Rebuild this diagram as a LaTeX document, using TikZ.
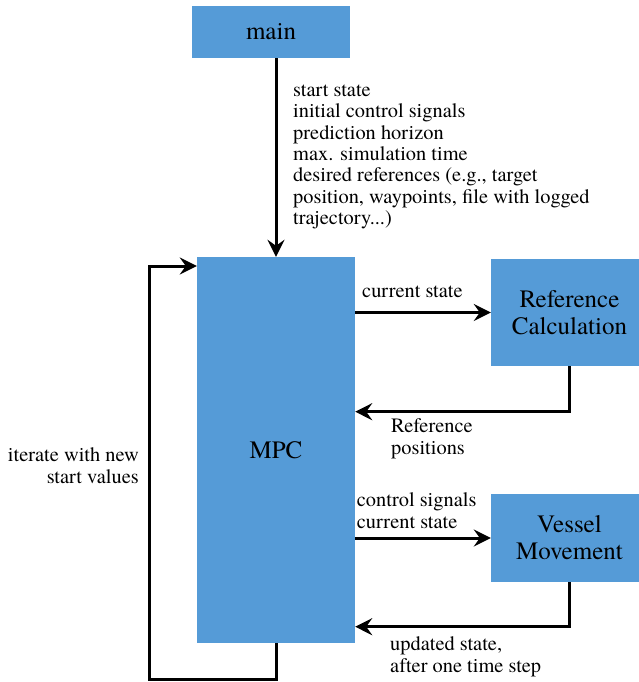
\documentclass[tikz,border=0pt]{standalone}
\usepackage{fontspec}
\setmainfont{texgyretermes-regular.otf}
\usetikzlibrary{positioning, calc, arrows.meta}
\definecolor{boxblue}{RGB}{85,155,215}

\begin{document}
\begin{tikzpicture}[x=1pt, y=-1pt,
    block/.style={fill=boxblue, inner sep=0pt, align=center, font=\fontsize{25}{27}\selectfont},
    wire/.style={line width=3pt},
    flow/.style={wire, -{Stealth[length=17pt, width=17pt, inset=6pt]}},
    lbl/.style={inner sep=0pt, font=\fontsize{20.4}{21.4}\selectfont}]
    \useasboundingbox (0,0) rectangle (639,682);

    % blocks
    \node[block, minimum width=158pt, minimum height=52pt]  (main)   at (271,32)    {main};
    \node[block, minimum width=158pt, minimum height=386pt] (MPC)    at (276,450)   {MPC};
    \node[block, minimum width=157pt, minimum height=107pt] (ref)    at (569.5,312.5) {Reference\\Calculation};
    \node[block, minimum width=157pt, minimum height=88pt]  (vessel) at (569.5,538) {Vessel\\Movement};

    % main -> MPC, with the start parameters
    \draw[flow] (MPC.north |- main.south) -- (MPC.north);
    \node[lbl, anchor=north west, align=left] (params) at (293,84.3)
        {start state\\initial control signals\\prediction horizon\\max. simulation time\\
         desired references (e.g., target\\position, waypoints, file with logged\\trajectory...)};

    % MPC <-> reference calculation
    \draw[flow] (MPC.east |- ref.west) -- (ref.west);
    \node[lbl, anchor=base west] (cur) at (362,297) {current state};
    \coordinate (refturn) at ($(ref.south)+(0,45.5)$);
    \draw[flow] (ref.south) |- (MPC.east |- refturn);
    \node[lbl, anchor=north west, align=left] (refpos) at (391,418.7) {Reference\\positions};

    % MPC <-> vessel movement
    \draw[flow] (MPC.east |- vessel.west) -- (vessel.west);
    \node[lbl, anchor=north west, align=left] (ctrl) at (356.7,492.8) {control signals\\current state};
    \coordinate (vesturn) at ($(vessel.south)+(0,44.5)$);
    \draw[flow] (vessel.south) |- (MPC.east |- vesturn);
    \node[lbl, anchor=north west, align=left] (upd) at (390,636.8) {updated state,\\after one time step};

    % loop back to MPC
    \coordinate (loopbot) at (149,679);
    \coordinate (looptop) at (149,266);
    \draw[flow] (MPC.south) |- (loopbot) -- (looptop) -- (MPC.west |- looptop);
    \node[lbl, anchor=north east, align=right] (iter) at (139,447.8) {iterate with new\\start values};
\end{tikzpicture}
\end{document}
